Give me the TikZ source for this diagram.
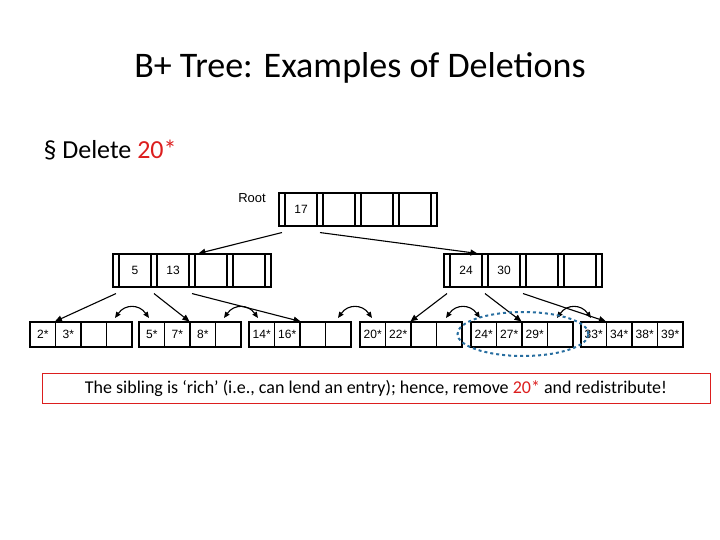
\documentclass[tikz,border=0pt]{standalone}
\usepackage{fontspec}
\setmainfont{Carlito}
\newfontfamily\arialf{Liberation Sans}
\usetikzlibrary{arrows.meta,shapes.geometric}
\definecolor{ered}{RGB}{220,30,30}
\definecolor{eblue}{RGB}{40,110,160}
\tikzset{
  cell/.style={draw,line width=1.1pt,minimum width=25.5pt,minimum height=25pt,inner sep=0pt,font=\arialf\fontsize{12}{12}\selectfont},
  kcell/.style={draw,line width=1.1pt,minimum width=32pt,minimum height=33pt,inner sep=0pt,font=\arialf\fontsize{12}{12}\selectfont},
  pslot/.style={draw,line width=1.1pt,minimum width=6pt,minimum height=33pt,inner sep=0pt},
  ptr/.style={line width=1.1pt,-{Triangle[length=7pt,width=6pt]}},
  sib/.style={line width=1.1pt,{Triangle[length=6pt,width=5pt]}-{Triangle[length=6pt,width=5pt]}},
}
\newcommand{\myidxnode}[6]{%
  \foreach \i in {0,...,4} {\node[pslot] (#1p\i) at ({#2+3+\i*38},#3) {};}
  \node[kcell] (#1k0) at ({#2+22},#3) {#4};
  \node[kcell] (#1k1) at ({#2+60},#3) {#5};
  \node[kcell] (#1k2) at ({#2+98},#3) {#6};
  \node[kcell] (#1k3) at ({#2+136},#3) {};
}
\newcommand{\myleafrow}[6]{%
  \node[cell] (#1c0) at ({#2+12.75},334.5) {#3};
  \node[cell] (#1c1) at ({#2+38.25},334.5) {#4};
  \node[cell] (#1c2) at ({#2+63.75},334.5) {#5};
  \node[cell] (#1c3) at ({#2+89.25},334.5) {#6};
}
\begin{document}
\begin{tikzpicture}[x=1pt,y=-1pt]
\useasboundingbox (0,0) rectangle (720,540);
\node (title) at (360,68) {\fontsize{36}{36}\selectfont B+ Tree: Examples of Deletions};
\node[anchor=west] (bullet) at (40,150) {\fontsize{26}{26}\selectfont \S\ Delete \textcolor{ered}{20*}};
\node[font=\arialf\fontsize{13}{13}\selectfont] (rootlbl) at (252,198) {Root};
\myidxnode{R}{279}{209.5}{17}{}{}
\myidxnode{A}{113}{270.5}{5}{13}{}
\myidxnode{B}{444}{270.5}{24}{30}{}
\myleafrow{La}{30}{2*}{3*}{}{}
\myleafrow{Lb}{139}{5*}{7*}{8*}{}
\myleafrow{Lc}{249}{14*}{16*}{}{}
\myleafrow{Ld}{360}{20*}{22*}{}{}
\myleafrow{Le}{471}{24*}{27*}{29*}{}
\myleafrow{Lf}{581}{33*}{34*}{38*}{39*}
\draw[ptr] ([yshift=-6pt]Rp0.south) -- ([xshift=4pt]Ak2.north west);
\draw[ptr] ([yshift=-6pt]Rp1.south) -- ([xshift=-10pt]Bk1.north west);
\draw[ptr] ([yshift=-6pt]Ap0.south) -- (Lac1.north west);
\draw[ptr] ([yshift=-6pt]Ap1.south) -- (Lbc2.north west);
\draw[ptr] ([yshift=-6pt]Ap2.south) -- (Lcc1.north east);
\draw[ptr] ([yshift=-6pt]Bp0.south) -- (Ldc2.north west);
\draw[ptr] ([yshift=-6pt]Bp1.south) -- (Lec2.north west);
\draw[ptr] ([yshift=-6pt]Bp2.south) -- (Lfc1.north west);
\foreach \x in {115,224,338,446,557} {
  \draw[sib] (\x,318) .. controls (\x+10,304) and (\x+24,304) .. (\x+34,318);
}
\node[draw=eblue,dashed,line width=2pt,ellipse,minimum width=131pt,minimum height=44pt,inner sep=0pt] (ell) at (523,334) {};
\node[draw=ered,line width=0.8pt,minimum width=668pt,minimum height=30pt,inner sep=0pt] (note) at (376,388) {\fontsize{18}{18}\selectfont The sibling is ‘rich’ (i.e., can lend an entry); hence, remove \textcolor{ered}{20*} and redistribute!};
\end{tikzpicture}
\end{document}
